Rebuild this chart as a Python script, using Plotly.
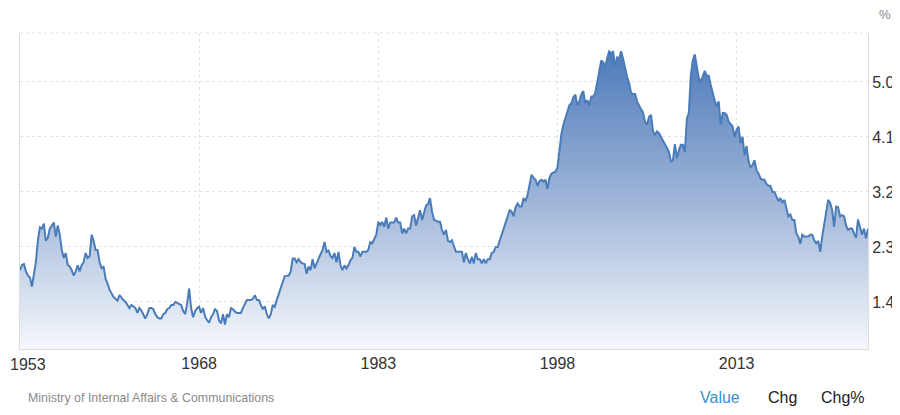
import pandas as pd
import plotly.graph_objects as go

# Japan unemployment rate, every two months (Jan, Mar, May, Jul, Sep, Nov)
start_date = '1953-01-01'
rate = [
    1.92, 2.00, 2.02, 1.90, 1.83, 1.80,   # 1953
    1.65, 1.85, 2.05, 2.40, 2.62, 2.60,   # 1954
    2.68, 2.40, 2.45, 2.60, 2.65, 2.70,   # 1955
    2.47, 2.65, 2.50, 2.25, 2.12, 2.20,   # 1956
    2.00, 1.98, 1.92, 1.83, 1.90, 2.00,   # 1957
    1.90, 2.00, 2.05, 2.20, 2.12, 2.15,   # 1958
    2.50, 2.40, 2.25, 2.25, 2.05, 1.95,   # 1959
    1.98, 1.78, 1.70, 1.60, 1.54, 1.48,   # 1960
    1.45, 1.42, 1.51, 1.46, 1.43, 1.40,   # 1961
    1.35, 1.30, 1.35, 1.32, 1.30, 1.22,   # 1962
    1.30, 1.26, 1.20, 1.13, 1.20, 1.30,   # 1963
    1.30, 1.28, 1.20, 1.15, 1.13, 1.13,   # 1964
    1.20, 1.22, 1.28, 1.30, 1.35, 1.35,   # 1965
    1.40, 1.38, 1.36, 1.35, 1.25, 1.20,   # 1966
    1.38, 1.62, 1.30, 1.15, 1.25, 1.30,   # 1967
    1.32, 1.22, 1.30, 1.16, 1.10, 1.06,   # 1968
    1.15, 1.20, 1.28, 1.25, 1.10, 1.05,   # 1969
    1.20, 1.03, 1.20, 1.15, 1.30, 1.28,   # 1970
    1.24, 1.22, 1.22, 1.22, 1.30, 1.38,   # 1971
    1.43, 1.43, 1.43, 1.45, 1.51, 1.43,   # 1972
    1.43, 1.35, 1.28, 1.33, 1.20, 1.13,   # 1973
    1.20, 1.35, 1.32, 1.43, 1.54, 1.62,   # 1974
    1.75, 1.82, 1.83, 1.83, 1.90, 2.11,   # 1975
    2.11, 2.05, 2.10, 2.05, 2.03, 2.02,   # 1976
    1.86, 1.98, 1.92, 2.10, 1.95, 2.05,   # 1977
    2.11, 2.18, 2.25, 2.38, 2.22, 2.24,   # 1978
    2.15, 2.12, 2.20, 2.05, 2.22, 2.00,   # 1979
    1.92, 2.00, 1.95, 2.00, 2.08, 2.12,   # 1980
    2.30, 2.22, 2.22, 2.14, 2.22, 2.22,   # 1981
    2.22, 2.25, 2.38, 2.36, 2.42, 2.50,   # 1982
    2.71, 2.66, 2.71, 2.63, 2.78, 2.60,   # 1983
    2.70, 2.70, 2.70, 2.78, 2.70, 2.70,   # 1984
    2.52, 2.60, 2.52, 2.60, 2.60, 2.80,   # 1985
    2.82, 2.65, 2.80, 2.90, 2.74, 2.85,   # 1986
    2.98, 3.00, 3.10, 2.88, 2.74, 2.73,   # 1987
    2.71, 2.71, 2.58, 2.50, 2.58, 2.40,   # 1988
    2.38, 2.41, 2.30, 2.22, 2.22, 2.22,   # 1989
    2.22, 2.05, 2.20, 2.10, 2.03, 2.14,   # 1990
    2.03, 2.20, 2.10, 2.10, 2.03, 2.10,   # 1991
    2.03, 2.10, 2.10, 2.20, 2.22, 2.30,   # 1992
    2.30, 2.40, 2.50, 2.63, 2.72, 2.80,   # 1993
    2.90, 2.88, 2.80, 2.95, 3.01, 2.96,   # 1994
    2.96, 3.10, 3.05, 3.15, 3.35, 3.48,   # 1995
    3.43, 3.40, 3.30, 3.38, 3.40, 3.37,   # 1996
    3.40, 3.25, 3.43, 3.50, 3.52, 3.53,   # 1997
    3.60, 3.90, 4.15, 4.30, 4.40, 4.49,   # 1998
    4.62, 4.65, 4.75, 4.79, 4.62, 4.68,   # 1999
    4.80, 4.85, 4.65, 4.70, 4.62, 4.76,   # 2000
    4.76, 4.82, 5.00, 5.13, 5.35, 5.32,   # 2001
    5.25, 5.39, 5.50, 5.47, 5.49, 5.25,   # 2002
    5.40, 5.38, 5.50, 5.38, 5.20, 5.08,   # 2003
    4.98, 4.82, 4.80, 4.80, 4.68, 4.60,   # 2004
    4.55, 4.50, 4.35, 4.30, 4.43, 4.46,   # 2005
    4.19, 4.13, 4.19, 4.16, 4.10, 4.02,   # 2006
    3.98, 3.90, 3.86, 3.70, 3.72, 3.98,   # 2007
    3.75, 3.88, 3.97, 3.97, 3.85, 4.40,   # 2008
    4.50, 5.10, 5.35, 5.45, 5.22, 5.06,   # 2009
    5.00, 5.10, 5.18, 5.10, 5.10, 4.95,   # 2010
    4.80, 4.70, 4.60, 4.68, 4.30, 4.49,   # 2011
    4.49, 4.46, 4.35, 4.30, 4.27, 4.10,   # 2012
    4.22, 4.27, 4.00, 4.10, 3.80, 3.95,   # 2013
    3.70, 3.60, 3.64, 3.72, 3.55, 3.50,   # 2014
    3.42, 3.40, 3.40, 3.33, 3.30, 3.30,   # 2015
    3.20, 3.20, 3.12, 3.05, 3.10, 3.02,   # 2016
    3.07, 2.95, 2.80, 2.83, 2.74, 2.74,   # 2017
    2.52, 2.47, 2.35, 2.50, 2.47, 2.47,   # 2018
    2.47, 2.50, 2.50, 2.41, 2.36, 2.40,   # 2019
    2.22, 2.47, 2.66, 2.90, 3.07, 3.02,   # 2020
    2.90, 2.63, 2.96, 2.95, 2.80, 2.82,   # 2021
    2.80, 2.65, 2.58, 2.60, 2.60, 2.52,   # 2022
    2.45, 2.75, 2.62, 2.50, 2.60, 2.44,   # 2023
    2.60,                                 # 2024
]
dates = pd.date_range(start_date, periods=len(rate), freq='2MS')

x_ticks  = ['1953-01-01', '1968-01-01', '1983-01-01', '1998-01-01', '2013-01-01']
x_labels = ['1953', '1968', '1983', '1998', '2013']
y_ticks  = [1.4, 2.3, 3.2, 4.1, 5.0]
y_labels = ['1.4', '2.3', '3.2', '4.1', '5.0']

line_color  = '#4a7cba'
grid_color  = '#e3e3e3'
axis_color  = '#dcdcdc'
font_color  = '#333333'
font_family = 'Liberation Sans, Arial, sans-serif'

y_min, y_max = 0.63, 5.8

# the first year label sits on the page edge, so it is drawn as an annotation pinned to the left
x_ticktext = [''] + x_labels[1:]

fig = go.Figure()

fig.add_trace(go.Scatter(
    x=dates,
    y=rate,
    mode='lines',
    line=dict(color=line_color, width=2),
    fill='tozeroy',
    fillgradient=dict(
        type='vertical',
        start=y_min,
        stop=5.5,
        colorscale=[[0, 'rgba(246,248,252,1)'], [0.5, 'rgba(158,181,216,1)'], [1, 'rgba(78,123,186,1)']],
    ),
    hoverinfo='skip',
    showlegend=False,
))

# dotted top border of the plot box
fig.add_shape(type='line', xref='paper', yref='paper', x0=0, x1=1, y0=1, y1=1,
              line=dict(color=grid_color, width=1, dash='dot'))

fig.add_annotation(text=x_labels[0], xref='x', yref='paper', x=x_ticks[0], y=0,
                   xanchor='left', yanchor='middle', xshift=-12, yshift=-15, showarrow=False,
                   font=dict(size=16, color=font_color, family=font_family))

fig.add_annotation(text='%', xref='paper', yref='paper', x=1.02, y=1.06,
                   xanchor='center', yanchor='middle', showarrow=False,
                   font=dict(size=13, color='#888888', family=font_family))

fig.add_annotation(text='Ministry of Internal Affairs & Communications', xref='paper', yref='paper',
                   x=0.007, y=-0.155, xanchor='left', yanchor='middle', showarrow=False,
                   font=dict(size=12.4, color='#8a8a8a', family=font_family))

footer_items = [('Value', 720, '#3a8fd3'), ('Chg', 782, '#222222'), ('Chg%', 843, '#222222')]
for label, px, col in footer_items:
    fig.add_annotation(text=label, xref='paper', yref='paper',
                       x=(px - 20) / 848, y=-0.155, xanchor='center', yanchor='middle',
                       showarrow=False, font=dict(size=16, color=col, family=font_family))

# page body has an 8px offset, so the figure is sized to end at the window edge
fig.update_layout(
    width=892,
    height=407,
    margin=dict(l=12, r=32, t=25, b=66),
    paper_bgcolor='white',
    plot_bgcolor='white',
    font=dict(family=font_family, color=font_color),
    xaxis=dict(
        range=['1953-01-01', '2024-01-01'],
        tickvals=x_ticks,
        ticktext=x_ticktext,
        tickfont=dict(size=16, color=font_color),
        showgrid=True,
        gridcolor=grid_color,
        griddash='dot',
        showline=True,
        linecolor=axis_color,
        linewidth=1,
        ticks='',
        zeroline=False,
        automargin=False,
    ),
    yaxis=dict(
        range=[y_min, y_max],
        side='right',
        tickvals=y_ticks,
        ticktext=y_labels,
        tickfont=dict(size=16, color=font_color),
        showgrid=True,
        gridcolor=grid_color,
        griddash='dot',
        showline=True,
        mirror=True,
        linecolor=axis_color,
        linewidth=1,
        ticks='',
        zeroline=False,
        automargin=False,
    ),
)

fig.write_html("out.html")
